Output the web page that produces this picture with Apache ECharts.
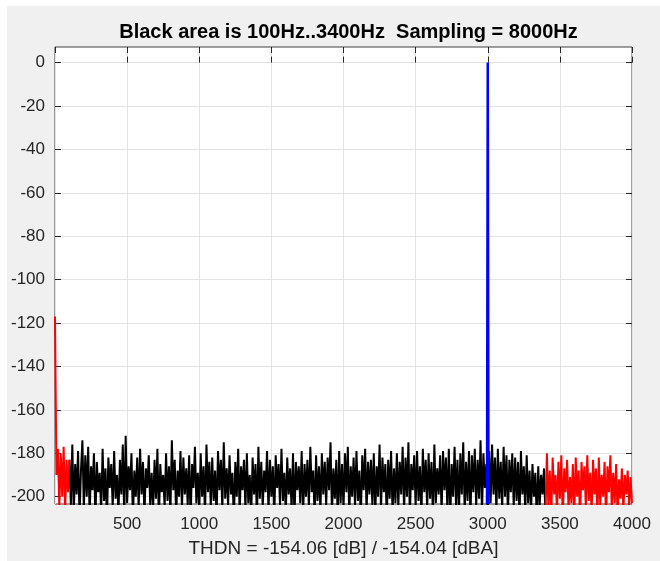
<!DOCTYPE html>
<html>
<head>
<meta charset="utf-8">
<script src="https://cdn.jsdelivr.net/npm/echarts@6/dist/echarts.min.js"></script>
<style>
  html, body { margin: 0; padding: 0; background: #fff; }
  #canvas { position: absolute; left: 7px; top: 6px; width: 653px; height: 555px; background: #f0f0f0; }
</style>
</head>
<body>
<div id="canvas"></div>
<script>
// spectrum bins, 10 Hz apart
const binStep = 10;

// 0..100 Hz (red)
const lowStart = 0;
const lowBandDb = [-117, -190, -178, -205, -180, -200, -177, -208, -183, -198, -183];

// 100..3400 Hz (black)
const passStart = 100;
const passBandDb = [
  -183, -204, -176, -208, -185, -199, -179, -210, -188, -174,
  -206, -181, -200, -177, -209, -186, -197, -180, -211, -184,
  -198, -189, -207, -178, -202, -187, -212, -182, -196, -185,
  -205, -179, -201, -190, -208, -183, -199, -176, -210, -172,
  -203, -186, -197, -180, -211, -188, -200, -182, -206, -178,
  -199, -184, -209, -187, -196, -181, -204, -189, -207, -183,
  -201, -178, -212, -185, -198, -190, -205, -180, -202, -186,
  -208, -174, -197, -183, -210, -188, -200, -179, -206, -182,
  -199, -187, -204, -181, -211, -185, -196, -177, -203, -189,
  -207, -180, -200, -186, -209, -176, -198, -184, -205, -182,
  -202, -188, -210, -179, -197, -183, -206, -175, -201, -187,
  -204, -181, -199, -189, -212, -184, -200, -178, -208, -186,
  -197, -183, -206, -180, -203, -190, -209, -182, -199, -185,
  -211, -177, -201, -184, -205, -188, -198, -179, -207, -183,
  -200, -186, -210, -181, -196, -185, -204, -178, -202, -189,
  -208, -182, -199, -187, -206, -180, -211, -184, -197, -186,
  -203, -179, -209, -185, -200, -183, -205, -177, -198, -188,
  -210, -181, -202, -186, -207, -180, -199, -184, -204, -182,
  -197, -175, -208, -187, -201, -183, -211, -179, -203, -185,
  -206, -180, -198, -177, -209, -186, -200, -182, -205, -179,
  -202, -188, -211, -181, -197, -178, -207, -184, -199, -183,
  -204, -180, -209, -186, -200, -176, -206, -182, -198, -185,
  -211, -183, -201, -179, -208, -187, -203, -180, -205, -184,
  -199, -177, -207, -182, -200, -175, -210, -185, -197, -181,
  -205, -179, -202, -186, -209, -178, -198, -183, -206, -180,
  -201, -184, -210, -176, -203, -187, -199, -181, -208, -179,
  -197, -182, -206, -178, -211, -185, -200, -177, -204, -183,
  -209, -180, -199, -175, -207, -184, -202, -179, -210, -181,
  -198, -178, -205, -183, -201, -174, -208, -180, -196, -185,
  -210, -179, -203, -176, -199, -182, -207, -178, -201, -184,
  -206, -177, -200, -181, -209, -183, -198, -180, -205, -182,
  -202, -184, -210, -179, -199, -186, -207, -181, -203, -188,
  -208, -185, -200, -189, -211, -186, -204, -190, -199, -187,
  -209
];

// 3400..4000 Hz (red)
const highStart = 3400;
const highBandDb = [
  -209, -180, -204, -188, -210, -182, -199, -190, -207, -184,
  -201, -181, -211, -187, -198, -183, -206, -191, -203, -185,
  -209, -182, -200, -188, -212, -184, -197, -186, -205, -181,
  -202, -189, -208, -183, -199, -187, -210, -182, -204, -190,
  -200, -184, -211, -186, -198, -181, -206, -189, -203, -185,
  -209, -192, -201, -187, -207, -190, -199, -188, -205, -191,
  -203
];

// test tone (blue)
const toneHz = [2995, 3000, 3005];
const toneDb = [-203.4, 0, -203.4];

const titleText = "Black area is 100Hz..3400Hz  Sampling = 8000Hz";
const xLabelText = "THDN = -154.06 [dB] / -154.04 [dBA]";

const toPairs = (start, arr) => arr.map((v, i) => [start + i * binStep, v]);

const font = "Liberation Sans";
const axisColor = "#262626";
const gridColor = "#e3e3e3";

const myChart = echarts.init(document.querySelector("#canvas"));
myChart.setOption({
  animation: false,
  textStyle: { fontFamily: font },
  title: {
    text: titleText,
    left: 336.5,
    textAlign: "center",
    top: 11,
    textStyle: { fontFamily: font, fontSize: 20, fontWeight: "bold", color: "#000" }
  },
  grid: [
    // plot box holding the data
    { left: 48, right: 28, top: 41, bottom: 57, show: true, z: -1, outerBoundsMode: "none",
      backgroundColor: "#fff", borderColor: "#404040", borderWidth: 1 },
    // -200..0 range, for y ticks and grid lines
    { left: 48, right: 28, top: 56.7, bottom: 64.3, show: false, outerBoundsMode: "none" }
  ],
  xAxis: [
    {
      gridIndex: 0, type: "value", min: 0, max: 4000, interval: 500, position: "bottom",
      axisLine: { show: false },
      axisTick: { inside: true, length: 6, lineStyle: { color: axisColor } },
      axisLabel: { showMinLabel: false, fontSize: 17, color: axisColor, margin: 12, fontFamily: font,
        formatter: (v) => String(v) },
      splitLine: { show: true, lineStyle: { color: gridColor } },
      name: xLabelText, nameLocation: "middle", nameGap: 35,
      nameTextStyle: { fontSize: 19, color: axisColor, fontFamily: font }
    },
    {
      gridIndex: 0, type: "value", min: 0, max: 4000, interval: 500, position: "top",
      axisLine: { show: false },
      axisTick: { inside: true, length: 6, lineStyle: { color: axisColor } },
      axisLabel: { show: false },
      splitLine: { show: false }
    },
    { gridIndex: 1, type: "value", min: 0, max: 4000, show: false }
  ],
  yAxis: [
    { gridIndex: 0, type: "value", min: -203.4, max: 7.2, show: false },
    {
      gridIndex: 1, type: "value", min: -200, max: 0, interval: 20, position: "left",
      axisLine: { show: false },
      axisTick: { inside: true, length: 6, lineStyle: { color: axisColor } },
      axisLabel: { fontSize: 17, color: axisColor, margin: 10, fontFamily: font },
      splitLine: { show: true, lineStyle: { color: gridColor } }
    },
    {
      gridIndex: 1, type: "value", min: -200, max: 0, interval: 20, position: "right",
      axisLine: { show: false },
      axisTick: { inside: true, length: 6, lineStyle: { color: axisColor } },
      axisLabel: { show: false },
      splitLine: { show: false }
    }
  ],
  series: [
    {
      type: "line", xAxisIndex: 0, yAxisIndex: 0, symbol: "none",
      data: toPairs(passStart, passBandDb),
      lineStyle: { color: "#000", width: 2 }
    },
    {
      type: "line", xAxisIndex: 0, yAxisIndex: 0, symbol: "none",
      data: toPairs(lowStart, lowBandDb),
      lineStyle: { color: "#ff0000", width: 2 }
    },
    {
      type: "line", xAxisIndex: 0, yAxisIndex: 0, symbol: "none",
      data: toPairs(highStart, highBandDb),
      lineStyle: { color: "#ff0000", width: 2 }
    },
    {
      type: "line", xAxisIndex: 0, yAxisIndex: 0, symbol: "none",
      data: toneHz.map((f, i) => [f, toneDb[i]]),
      lineStyle: { color: "#0000ff", width: 2.5 }
    }
  ]
});
window.addEventListener("resize", () => myChart.resize());
</script>
</body>
</html>
